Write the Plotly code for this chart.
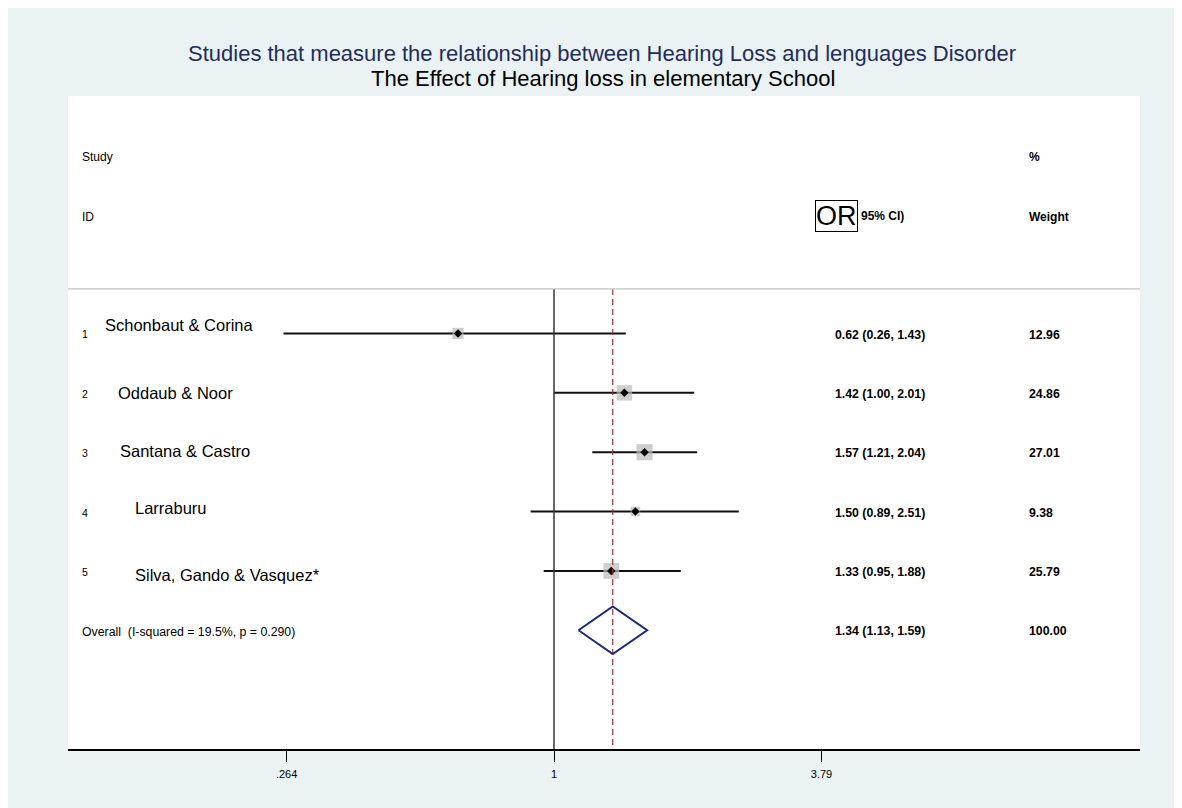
import math
import plotly.graph_objects as go

# ---------------- data ----------------
study_ids = ["1", "2", "3", "4", "5"]
study_names = ["Schonbaut & Corina", "Oddaub & Noor", "Santana & Castro",
               "Larraburu", "Silva, Gando & Vasquez*"]
odds_ratio = [0.62, 1.42, 1.57, 1.50, 1.33]
ci_low = [0.26, 1.00, 1.21, 0.89, 0.95]
ci_high = [1.43, 2.01, 2.04, 2.51, 1.88]
weights = [12.96, 24.86, 27.01, 9.38, 25.79]
overall_or = 1.34
overall_low = 1.13
overall_high = 1.59
overall_weight = 100.00
overall_label = "Overall\u00a0 (I-squared = 19.5%, p = 0.290)"
tick_values = [0.264, 1, 3.79]
tick_labels = [".264", "1", "3.79"]
title_text = "Studies that measure the relationship between Hearing Loss and lenguages Disorder"
subtitle_text = "The Effect of Hearing loss in elementary School"

# ---------------- geometry / style ----------------
W, H = 1182, 808
PAGE_OFF = 8                            # browser body margin
L, R, T, B = 68, 1140, 96, 749          # plot area in page pixels
X1_PX = 554                             # page pixel of OR = 1
PX_PER_LOG10 = 462.3
Y_TOP, Y_BOT = -3.0, 8.0                # row units
FONT = "Liberation Sans, Arial, sans-serif"
PANEL = "#eaf2f3"
NAVY = "#1b2a78"
TITLE_NAVY = "#1f2d5c"


def xp(px):
    return (px - L) / (R - L)


def row_px(r):
    return T + (r - Y_TOP) * (B - T) / (Y_BOT - Y_TOP)


def yp(py):
    return (B - py) / (B - T)


rows = list(range(1, len(study_names) + 1))
overall_row = len(study_names) + 1
sep_row = 0.25

fig = go.Figure()

# CI lines
cx, cy = [], []
for lo, hi, r in zip(ci_low, ci_high, rows):
    cx += [lo, hi, None]
    cy += [r, r, None]
fig.add_trace(go.Scatter(x=cx, y=cy, mode="lines",
                         line=dict(color="#111111", width=2),
                         hoverinfo="skip", showlegend=False))

# weight squares
fig.add_trace(go.Scatter(x=odds_ratio, y=rows, mode="markers",
                         marker=dict(symbol="square", color="#b9b9b9",
                                     size=[3.1 * math.sqrt(w) for w in weights],
                                     line=dict(width=0)),
                         showlegend=False))
# point estimates
fig.add_trace(go.Scatter(x=odds_ratio, y=rows, mode="markers",
                         marker=dict(symbol="diamond", color="black", size=6.5),
                         showlegend=False))

# null line at OR = 1
fig.add_trace(go.Scatter(x=[1, 1], y=[sep_row, Y_BOT], mode="lines",
                         line=dict(color="#333333", width=1.5),
                         hoverinfo="skip", showlegend=False))
# overall dashed line
fig.add_trace(go.Scatter(x=[overall_or, overall_or], y=[sep_row, Y_BOT], mode="lines",
                         line=dict(color="#a3303e", width=1.2, dash="6px,4px"),
                         hoverinfo="skip", showlegend=False))
# overall diamond
dh = 0.4
fig.add_trace(go.Scatter(x=[overall_low, overall_or, overall_high, overall_or, overall_low],
                         y=[overall_row, overall_row - dh, overall_row, overall_row + dh, overall_row],
                         mode="lines", line=dict(color=NAVY, width=2),
                         hoverinfo="skip", showlegend=False))

shapes = [
    dict(type="rect", xref="paper", yref="paper", layer="below",
         x0=xp(8), x1=xp(W + 20), y0=yp(H + 20), y1=yp(6),
         fillcolor=PANEL, line=dict(width=0)),
    dict(type="rect", xref="paper", yref="paper", layer="below",
         x0=0, x1=1, y0=0, y1=1, fillcolor="white", line=dict(width=0)),
    dict(type="line", xref="paper", yref="y", x0=0, x1=1, y0=sep_row, y1=sep_row,
         line=dict(color="#c4c4c4", width=1.2)),
]

ann = []


def text(x_px, y_px, s, size, bold=False, color="black", anchor="left", **kw):
    ann.append(dict(x=xp(x_px), y=yp(y_px), xref="paper", yref="paper",
                    text=f"<b>{s}</b>" if bold else s, showarrow=False,
                    xanchor=anchor, yanchor="middle",
                    font=dict(family=FONT, size=size, color=color), **kw))


# titles
text(602, 53, title_text, 22, color=TITLE_NAVY, anchor="center")
text(603, 78, subtitle_text, 22, anchor="center")

# headers
text(80, 157, "Study", 12)
text(80, 217, "ID", 12)
text(1027, 157, "%", 12, bold=True)
text(1027, 217, "Weight", 12, bold=True)
text(859, 216, "95% CI)", 12, bold=True)
ann.append(dict(x=xp(836.4), y=yp(216.2), xref="paper", yref="paper", text="OR",
                showarrow=False, xanchor="center", yanchor="middle",
                font=dict(family=FONT, size=27, color="black"),
                bordercolor="black", borderwidth=1, borderpad=0))

name_x = [102.7, 116, 118.3, 132.7, 132.7]
name_dy = [-8.7, 0.3, -0.7, -3.3, 4.3]
for i, r in enumerate(rows):
    py = row_px(r)
    text(80, py + 1, study_ids[i], 10.5)
    text(name_x[i], py + name_dy[i], study_names[i], 16.5)
    text(833, py + 1.2, f"{odds_ratio[i]:.2f} ({ci_low[i]:.2f}, {ci_high[i]:.2f})", 12.3, bold=True)
    text(1027, py + 1.2, f"{weights[i]:.2f}", 12.3, bold=True)

py = row_px(overall_row)
text(80, py + 1.5, overall_label, 12.3)
text(833, py + 1.2, f"{overall_or:.2f} ({overall_low:.2f}, {overall_high:.2f})", 12.3, bold=True)
text(1027, py + 1.2, f"{overall_weight:.2f}", 12.3, bold=True)

fig.update_layout(
    width=W, height=H,
    margin=dict(l=L - PAGE_OFF, r=W - (R - PAGE_OFF), t=T - PAGE_OFF,
                b=H - (B - PAGE_OFF), pad=0),
    paper_bgcolor="white", plot_bgcolor="rgba(0,0,0,0)",
    shapes=shapes, annotations=ann, showlegend=False,
    font=dict(family=FONT, color="black"),
    xaxis=dict(type="log",
               range=[(L - X1_PX) / PX_PER_LOG10, (R - X1_PX) / PX_PER_LOG10],
               tickvals=tick_values, ticktext=tick_labels,
               ticks="outside", ticklen=11, tickwidth=1, tickcolor="black",
               ticklabelstandoff=3,
               showline=True, linecolor="black", linewidth=1.6,
               showgrid=False, zeroline=False,
               tickfont=dict(family=FONT, size=11, color="black")),
    yaxis=dict(range=[Y_BOT, Y_TOP], visible=False, showgrid=False, zeroline=False),
)

fig.write_html("out.html")
